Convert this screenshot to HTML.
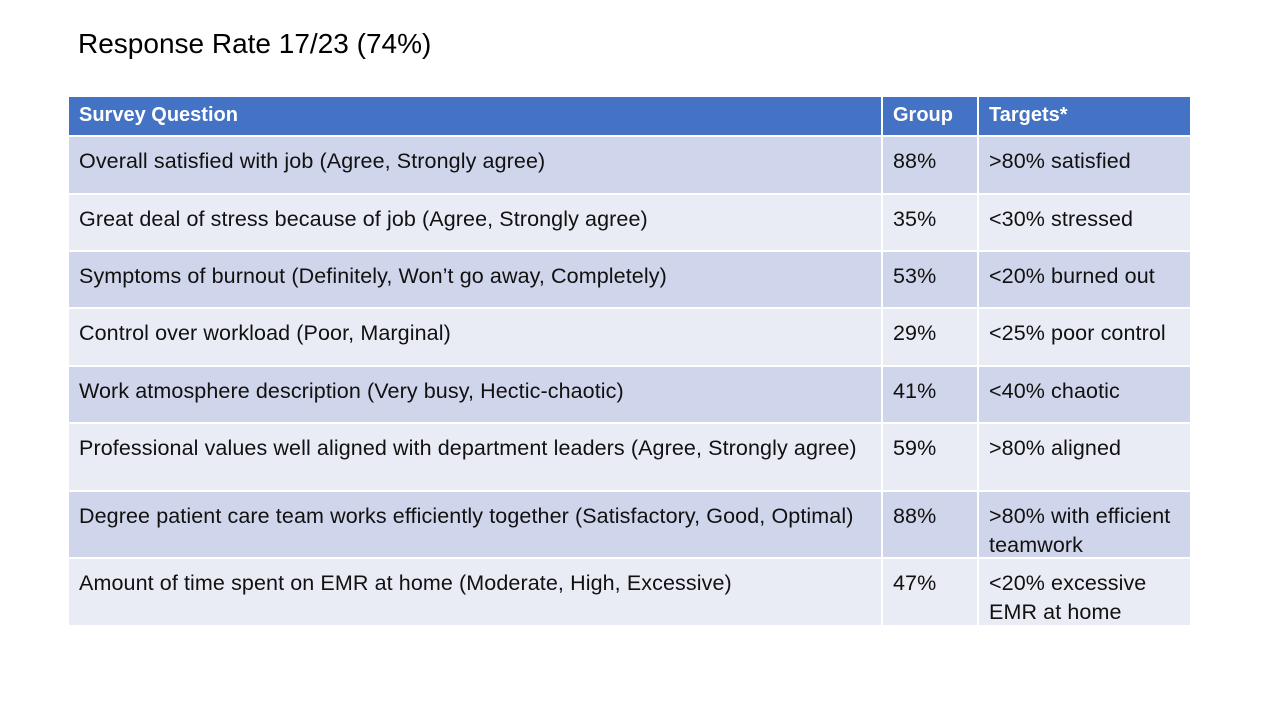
<!DOCTYPE html>
<html><head><meta charset="utf-8"><style>
body{margin:0;width:1280px;height:720px;background:#fff;position:relative;overflow:hidden;font-family:"Liberation Sans",sans-serif;}
.c{position:absolute;box-sizing:border-box;padding:10px 10px;font-size:21.5px;letter-spacing:0.1px;color:#111;line-height:29px;white-space:nowrap;}
.h{background:#4472C4;color:#fff;font-weight:bold;font-size:20px;letter-spacing:0;padding:4px 10px;}
.o{background:#CFD5EA;}
.e{background:#E9EBF5;}
</style></head><body>
<div style="position:absolute;left:78px;top:28px;font-size:28px;color:#000;">Response Rate 17/23 (74%)</div>
<div id="t"></div>
<script>
const rows=[
["Overall satisfied with job (Agree, Strongly agree)","88%",">80% satisfied"],
["Great deal of stress because of job (Agree, Strongly agree)","35%","<30% stressed"],
["Symptoms of burnout (Definitely, Won’t go away, Completely)","53%","<20% burned out"],
["Control over workload (Poor, Marginal)","29%","<25% poor control"],
["Work atmosphere description (Very busy, Hectic-chaotic)","41%","<40% chaotic"],
["Professional values well aligned with department leaders (Agree, Strongly agree)","59%",">80% aligned"],
["Degree patient care team works efficiently together (Satisfactory, Good, Optimal)","88%",">80% with efficient<br>teamwork"],
["Amount of time spent on EMR at home (Moderate, High, Excessive)","47%","<20% excessive<br>EMR at home"]];
const ys=[97,137,195,252,309,367,424,492,559,625];
const xs=[69,883,979,1190];
const t=document.getElementById('t');
function cell(x0,x1,y0,y1,html,cls,name){
 const d=document.createElement('div');
 d.className='c '+cls;
 d.style.left=x0+'px';d.style.top=y0+'px';d.style.width=(x1-x0-2)+'px';d.style.height=(y1-y0-2)+'px';
 d.innerHTML=html;
 
 
 t.appendChild(d);
}
const hdr=["Survey Question","Group","Targets*"];
hdr.forEach((h,i)=>cell(xs[i],xs[i+1]+(i==2?2:0),ys[0],ys[1],h,'h','header-'+['question','group','targets'][i]));
rows.forEach((r,ri)=>{
 r.forEach((v,i)=>cell(xs[i],xs[i+1]+(i==2?2:0),ys[ri+1],ys[ri+2]+(ri==7?2:0),v,ri%2?'e':'o','row'+(ri+1)+'-'+['question','group','target'][i]));
});
</script>
</body></html>
